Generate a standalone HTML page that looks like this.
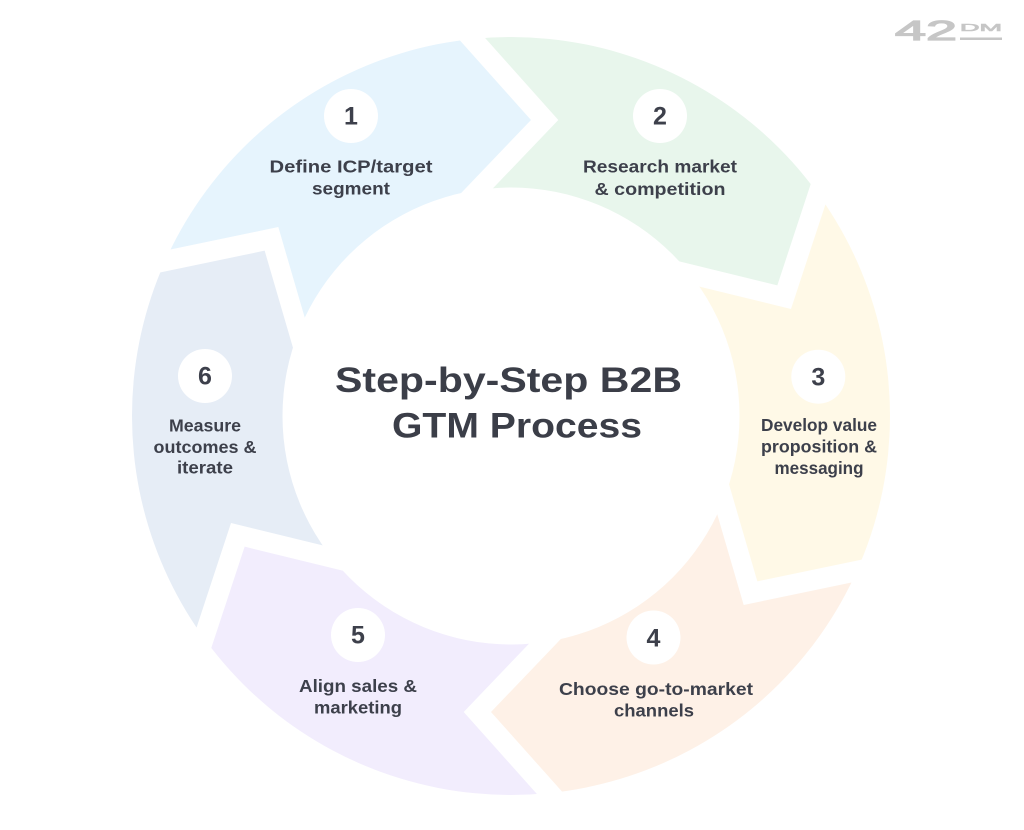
<!DOCTYPE html>
<html>
<head>
<meta charset="utf-8">
<style>
  html, body { margin:0; padding:0; background:#ffffff; }
  body { width:1024px; height:830px; overflow:hidden; position:relative; }
  .wrap { position:absolute; left:0; top:0; width:1024px; height:830px; overflow:hidden; }
  svg { display:block; overflow:hidden; }
  .lbl { font-family:"Liberation Sans", Arial, sans-serif; font-weight:bold; font-size:17.5px; fill:#3d404b; }
  .num { font-family:"Liberation Sans", Arial, sans-serif; font-weight:bold; font-size:25px; fill:#3d404b; }
  .ttl { font-family:"Liberation Sans", Arial, sans-serif; font-weight:bold; font-size:35px; fill:#3b3e48; }
</style>
</head>
<body>
<div class="wrap">
<svg width="1024" height="830" viewBox="0 0 1024 830" xmlns="http://www.w3.org/2000/svg">
  <defs>
    <clipPath id="c0" clipPathUnits="userSpaceOnUse">
      <polygon points="278.31,227.04 87.22,266.82 150,20 401,-25.6 531,120 401,255.9 331,407.57"/>
    </clipPath>
    <clipPath id="c1" clipPathUnits="userSpaceOnUse">
      <polygon transform="rotate(60 511 416)" points="278.31,227.04 87.22,266.82 150,20 401,-25.6 531,120 401,255.9 331,407.57"/>
    </clipPath>
    <clipPath id="c2" clipPathUnits="userSpaceOnUse">
      <polygon transform="rotate(120 511 416)" points="278.31,227.04 87.22,266.82 150,20 401,-25.6 531,120 401,255.9 331,407.57"/>
    </clipPath>
    <clipPath id="c3" clipPathUnits="userSpaceOnUse">
      <polygon transform="rotate(180 511 416)" points="278.31,227.04 87.22,266.82 150,20 401,-25.6 531,120 401,255.9 331,407.57"/>
    </clipPath>
    <clipPath id="c4" clipPathUnits="userSpaceOnUse">
      <polygon transform="rotate(240 511 416)" points="278.31,227.04 87.22,266.82 150,20 401,-25.6 531,120 401,255.9 331,407.57"/>
    </clipPath>
    <clipPath id="c5" clipPathUnits="userSpaceOnUse">
      <polygon transform="rotate(300 511 416)" points="278.31,227.04 87.22,266.82 150,20 401,-25.6 531,120 401,255.9 331,407.57"/>
    </clipPath>
  </defs>

  <!-- ring segments -->
  <path clip-path="url(#c0)" fill="#e6f4fd" fill-rule="evenodd"
    d="M511,37 A379,379 0 1,1 511,795 A379,379 0 1,1 511,37 Z M511,187.5 A228.5,228.5 0 1,0 511,644.5 A228.5,228.5 0 1,0 511,187.5 Z"/>
  <path clip-path="url(#c1)" fill="#e8f6ec" fill-rule="evenodd"
    d="M511,37 A379,379 0 1,1 511,795 A379,379 0 1,1 511,37 Z M511,187.5 A228.5,228.5 0 1,0 511,644.5 A228.5,228.5 0 1,0 511,187.5 Z"/>
  <path clip-path="url(#c2)" fill="#fff9e7" fill-rule="evenodd"
    d="M511,37 A379,379 0 1,1 511,795 A379,379 0 1,1 511,37 Z M511,187.5 A228.5,228.5 0 1,0 511,644.5 A228.5,228.5 0 1,0 511,187.5 Z"/>
  <path clip-path="url(#c3)" fill="#fef1e7" fill-rule="evenodd"
    d="M511,37 A379,379 0 1,1 511,795 A379,379 0 1,1 511,37 Z M511,187.5 A228.5,228.5 0 1,0 511,644.5 A228.5,228.5 0 1,0 511,187.5 Z"/>
  <path clip-path="url(#c4)" fill="#f2edfd" fill-rule="evenodd"
    d="M511,37 A379,379 0 1,1 511,795 A379,379 0 1,1 511,37 Z M511,187.5 A228.5,228.5 0 1,0 511,644.5 A228.5,228.5 0 1,0 511,187.5 Z"/>
  <path clip-path="url(#c5)" fill="#e6edf6" fill-rule="evenodd"
    d="M511,37 A379,379 0 1,1 511,795 A379,379 0 1,1 511,37 Z M511,187.5 A228.5,228.5 0 1,0 511,644.5 A228.5,228.5 0 1,0 511,187.5 Z"/>

  <!-- number circles -->
  <circle cx="351" cy="116" r="27" fill="#ffffff"/>
  <circle cx="660" cy="116" r="27" fill="#ffffff"/>
  <circle cx="818.3" cy="376.7" r="27" fill="#ffffff"/>
  <circle cx="653.5" cy="637.5" r="27" fill="#ffffff"/>
  <circle cx="358" cy="635" r="27" fill="#ffffff"/>
  <circle cx="205" cy="376" r="27" fill="#ffffff"/>

  <text class="num" x="351" y="124.5" text-anchor="middle">1</text>
  <text class="num" x="660" y="124.5" text-anchor="middle">2</text>
  <text class="num" x="818.3" y="385.5" text-anchor="middle">3</text>
  <text class="num" x="653.5" y="646.5" text-anchor="middle">4</text>
  <text class="num" x="358" y="643.5" text-anchor="middle">5</text>
  <text class="num" x="205" y="384.5" text-anchor="middle">6</text>

  <!-- labels -->
  <text class="lbl" x="351" y="172.5" text-anchor="middle" textLength="163" lengthAdjust="spacingAndGlyphs">Define ICP/target</text>
  <text class="lbl" x="351" y="194.5" text-anchor="middle" textLength="78" lengthAdjust="spacingAndGlyphs">segment</text>

  <text class="lbl" x="660" y="172.5" text-anchor="middle" textLength="154" lengthAdjust="spacingAndGlyphs">Research market</text>
  <text class="lbl" x="660" y="195" text-anchor="middle" textLength="131" lengthAdjust="spacingAndGlyphs">&amp; competition</text>

  <text class="lbl" x="819" y="431" text-anchor="middle" textLength="116" lengthAdjust="spacingAndGlyphs">Develop value</text>
  <text class="lbl" x="819" y="452.5" text-anchor="middle" textLength="116" lengthAdjust="spacingAndGlyphs">proposition &amp;</text>
  <text class="lbl" x="819" y="474" text-anchor="middle" textLength="89" lengthAdjust="spacingAndGlyphs">messaging</text>

  <text class="lbl" x="656" y="695" text-anchor="middle" textLength="194" lengthAdjust="spacingAndGlyphs">Choose go-to-market</text>
  <text class="lbl" x="654" y="716.5" text-anchor="middle" textLength="80" lengthAdjust="spacingAndGlyphs">channels</text>

  <text class="lbl" x="358" y="692" text-anchor="middle" textLength="118" lengthAdjust="spacingAndGlyphs">Align sales &amp;</text>
  <text class="lbl" x="358" y="713.5" text-anchor="middle" textLength="88" lengthAdjust="spacingAndGlyphs">marketing</text>

  <text class="lbl" x="205" y="431.5" text-anchor="middle" textLength="72" lengthAdjust="spacingAndGlyphs">Measure</text>
  <text class="lbl" x="205" y="453" text-anchor="middle" textLength="103" lengthAdjust="spacingAndGlyphs">outcomes &amp;</text>
  <text class="lbl" x="205" y="473.5" text-anchor="middle" textLength="56" lengthAdjust="spacingAndGlyphs">iterate</text>

  <!-- title -->
  <text class="ttl" x="508.5" y="392" text-anchor="middle" textLength="347" lengthAdjust="spacingAndGlyphs">Step-by-Step B2B</text>
  <text class="ttl" x="517" y="437.5" text-anchor="middle" textLength="250" lengthAdjust="spacingAndGlyphs">GTM Process</text>

  <!-- logo -->
  <text x="895" y="40" font-family="Liberation Sans, Arial, sans-serif" font-size="28" fill="#c6c6c6" stroke="#c6c6c6" stroke-width="1.2" textLength="62" lengthAdjust="spacingAndGlyphs">42</text>
  <text x="960" y="31" font-family="Liberation Sans, Arial, sans-serif" font-size="10.5" fill="#c6c6c6" stroke="#c6c6c6" stroke-width="0.6" textLength="42" lengthAdjust="spacingAndGlyphs">DM</text>
  <rect x="960" y="37.5" width="42" height="2.5" fill="#c6c6c6"/>
</svg>
</div>
</body>
</html>
